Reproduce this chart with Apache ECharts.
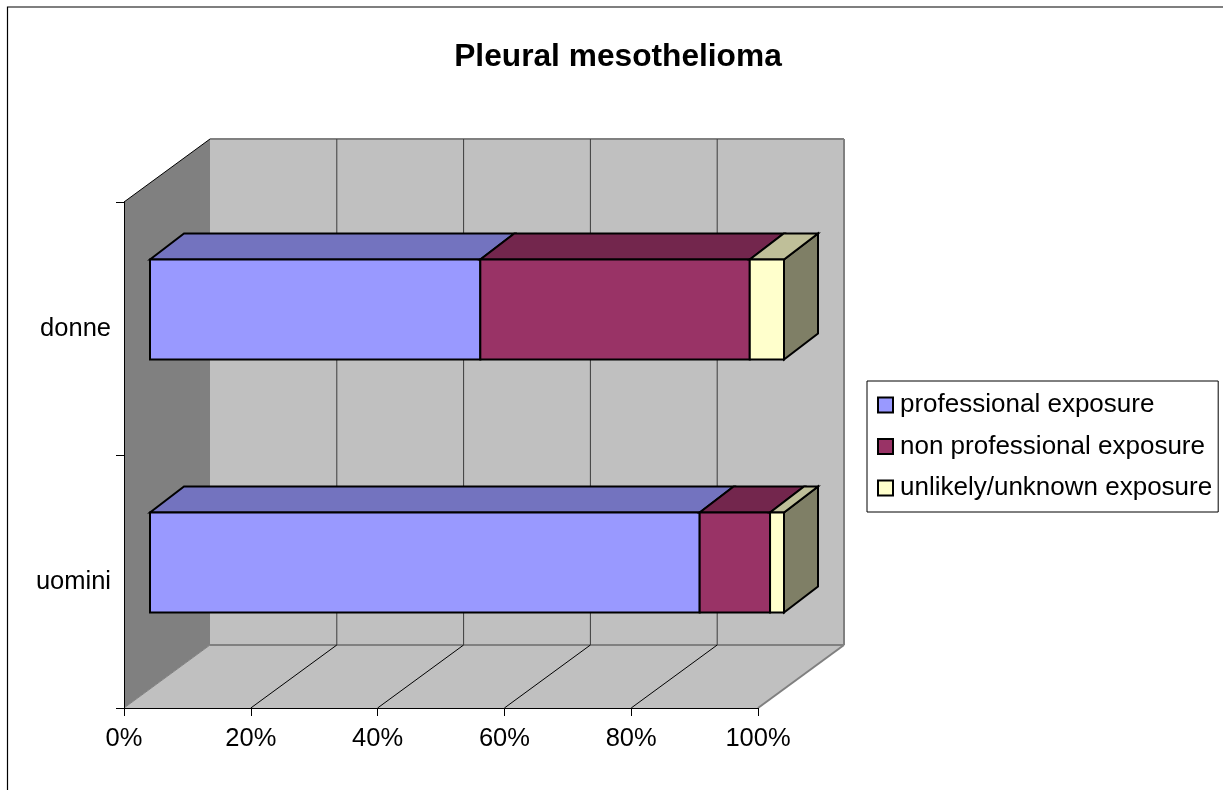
<!DOCTYPE html>
<html><head><meta charset="utf-8">
<style>html,body{margin:0;padding:0;background:#fff}#c{width:1223px;height:790px}</style>
<script src="https://cdn.jsdelivr.net/npm/echarts@6/dist/echarts.min.js"></script>
</head><body><div id="c"></div>
<script>
const categories = ['uomini', 'donne'];
const professional = [86.7, 52.1];
const nonProfessional = [11.1, 42.5];
const unlikely = [2.2, 5.4];
const seriesNames = ['professional exposure', 'non professional exposure', 'unlikely/unknown exposure'];
const gridTicks = [20, 40, 60, 80];
const chartTitle = 'Pleural mesothelioma';

const FONT = '"Liberation Sans", Arial, sans-serif';
const WALL = [86, -63];      // projection of the full chart depth
const BAR_OFF = [26, -19];   // bar front face offset inside the depth
const BAR_D = [34, -26];     // bar depth
const BAR_H = 0.395;         // bar thickness as share of the category band
const COLORS = [
  { front: '#9999FF', top: '#7373BF' },
  { front: '#993366', top: '#73264D' },
  { front: '#FFFFCC', top: '#BFBF99', side: '#7F7F66' }
];
const shift = (p, d) => [p[0] + d[0], p[1] + d[1]];

function poly(points, fill, stroke, w) {
  return { type: 'polygon', shape: { points }, style: { fill, stroke: stroke || 'none', lineWidth: w || 0 } };
}
function line(a, b, stroke, w) {
  return { type: 'line', shape: { x1: a[0], y1: a[1], x2: b[0], y2: b[1] }, style: { stroke, lineWidth: w, fill: 'none' } };
}

function renderWalls(params, api) {
  const g = params.coordSys;
  const fl = [g.x, g.y + g.height], fr = [g.x + g.width, g.y + g.height], tl = [g.x, g.y];
  const bl = shift(fl, WALL), br = shift(fr, WALL), btl = shift(tl, WALL), btr = [br[0], btl[1]];
  return { type: 'group', children: [
    poly([btl, btr, br, bl], '#C0C0C0'),
    poly([tl, btl, bl, fl], '#808080'),
    poly([fl, fr, br, bl], '#C0C0C0'),
    line(btl, btr, '#808080', 2),
    line(btr, br, '#808080', 2),
    line(bl, br, '#808080', 2),
    line(fr, br, '#808080', 2),
    line(fl, bl, '#808080', 1),
    line(tl, btl, '#000', 1)
  ] };
}
function renderGrid(params, api) {
  const g = params.coordSys;
  const p = api.coord([api.value(0), 0]);
  const f = [p[0], g.y + g.height], b = shift(f, WALL);
  return { type: 'group', children: [
    line(f, b, '#000', 1),
    line(b, [b[0], g.y + WALL[1]], '#3c3c3c', 1)
  ] };
}
function barRender(idx) {
  return function (params, api) {
    const cat = api.value(2);
    const h = api.size([0, 1])[1] * BAR_H;
    const a = shift(api.coord([api.value(0), cat]), BAR_OFF);
    const b = shift(api.coord([api.value(1), cat]), BAR_OFF);
    const tl = [a[0], a[1] - h / 2], tr = [b[0], b[1] - h / 2], br = [b[0], b[1] + h / 2], bl = [a[0], a[1] + h / 2];
    const c = COLORS[idx], kids = [];
    if (c.side) kids.push(poly([tr, shift(tr, BAR_D), shift(br, BAR_D), br], c.side, '#000', 2));
    kids.push(poly([tl, shift(tl, BAR_D), shift(tr, BAR_D), tr], c.top, '#000', 2));
    kids.push(poly([tl, tr, br, bl], c.front, '#000', 2));
    return { type: 'group', children: kids };
  };
}
const stackData = [professional, nonProfessional, unlikely].map(() => []);
categories.forEach((_, i) => {
  let s = 0;
  [professional, nonProfessional, unlikely].forEach((arr, k) => {
    stackData[k].push([s, s + arr[i], i]); s += arr[i];
  });
});
const chart = echarts.init(document.getElementById('c'), null, { renderer: 'canvas' });
chart.setOption({
  animation: false,
  backgroundColor: '#fff',
  title: { text: chartTitle, left: 613, top: 36, textAlign: 'center',
    textStyle: { fontFamily: FONT, fontSize: 31.7, fontWeight: 'bold', color: '#000' } },
  graphic: [{ type: 'rect', silent: true, z: -1, shape: { x: 7.5, y: 7, width: 1400, height: 1000 },
    style: { fill: 'none', stroke: '#000', lineWidth: 1.2 } }],
  legend: {
    left: 867, top: 381, orient: 'vertical', padding: [11, 6, 11, 10],
    data: seriesNames, icon: 'rect', itemWidth: 15, itemHeight: 15, itemGap: 15.5,
    borderColor: '#000', borderWidth: 1, backgroundColor: '#fff',
    selectedMode: false,
    textStyle: { fontFamily: FONT, fontSize: 26, color: '#000', padding: [0, 0, 0, 2] }
  },
  grid: { left: 124, top: 202, width: 634, height: 506, containLabel: false },
  xAxis: { type: 'value', min: 0, max: 100, interval: 20, z: 5,
    axisLine: { show: true, lineStyle: { color: '#000', width: 1 } },
    axisTick: { show: true, length: 8, lineStyle: { color: '#000', width: 1 } },
    splitLine: { show: false },
    axisLabel: { formatter: '{value}%', margin: 18, fontFamily: FONT, fontSize: 25.5, color: '#000' } },
  yAxis: { type: 'category', data: categories, z: 5,
    axisLine: { show: true, lineStyle: { color: '#000', width: 1 } },
    axisTick: { show: true, length: 8, lineStyle: { color: '#000', width: 1 } },
    axisLabel: { margin: 13, fontFamily: FONT, fontSize: 25.5, color: '#000' } },
  series: [
    { type: 'custom', name: 'walls', silent: true, z: 1, data: [[0, 0]], renderItem: renderWalls, encode: { x: 0, y: 1 } },
    { type: 'custom', name: 'grid', silent: true, z: 1.5, data: gridTicks.map(v => [v, 0]), renderItem: renderGrid, encode: { x: 0, y: 1 } }
  ].concat(seriesNames.map((n, k) => ({
    type: 'custom', name: n, z: 3 + k, data: stackData[k], renderItem: barRender(k),
    encode: { x: [0, 1], y: 2 },
    itemStyle: { color: COLORS[k].front, borderColor: '#000', borderWidth: 1.5 }
  })))
});
</script></body></html>
